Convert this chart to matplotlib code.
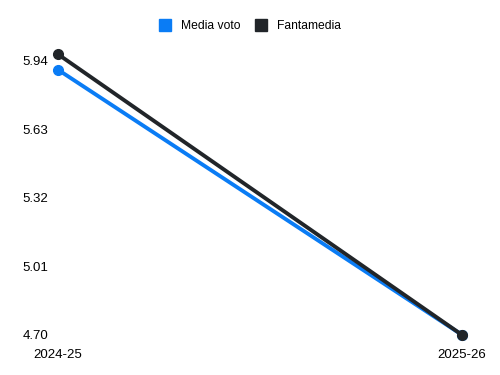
import matplotlib
matplotlib.use('Agg')
from matplotlib import pyplot as plt
from matplotlib.lines import Line2D

plt.rcParams['font.family'] = ['Liberation Sans', 'DejaVu Sans']

# data
seasons = ['2024-25', '2025-26']
media_voto = [5.90, 4.70]
fantamedia = [5.97, 4.70]
yticks = [4.70, 5.01, 5.32, 5.63, 5.94]

blue = '#0a7cf5'
dark = '#212529'

fig = plt.figure(figsize=(5, 3.75), dpi=100)
ax = fig.add_axes([0.116, 0.107, 0.808, 0.766])

x = range(len(seasons))
ax.plot(x, media_voto, color=blue, lw=2.8, marker='o', ms=7, solid_capstyle='round',
        clip_on=False, zorder=3)
ax.plot(x, fantamedia, color=dark, lw=2.8, marker='o', ms=7, solid_capstyle='round',
        clip_on=False, zorder=4)

ax.set_xlim(0, 1)
ax.set_ylim(4.70, 6.0)
ax.set_xticks(list(x))
ax.set_xticklabels(seasons, fontsize=9.5)
ax.set_yticks(yticks)
ax.set_yticklabels([f'{v:.2f}' for v in yticks], fontsize=9.5)
ax.tick_params(length=0)
ax.tick_params(axis='x', pad=10)
ax.tick_params(axis='y', pad=7)
for s in ax.spines.values():
    s.set_visible(False)

handles = [Line2D([], [], ls='', marker='s', ms=9, color=blue),
           Line2D([], [], ls='', marker='s', ms=9, color=dark)]
fig.legend(handles, ['Media voto', 'Fantamedia'], loc='center', bbox_to_anchor=(0.5, 0.93),
           ncol=2, frameon=False, fontsize=8.7, handletextpad=0.8, columnspacing=1.2,
           handlelength=1.0)

fig.savefig('out.png')
